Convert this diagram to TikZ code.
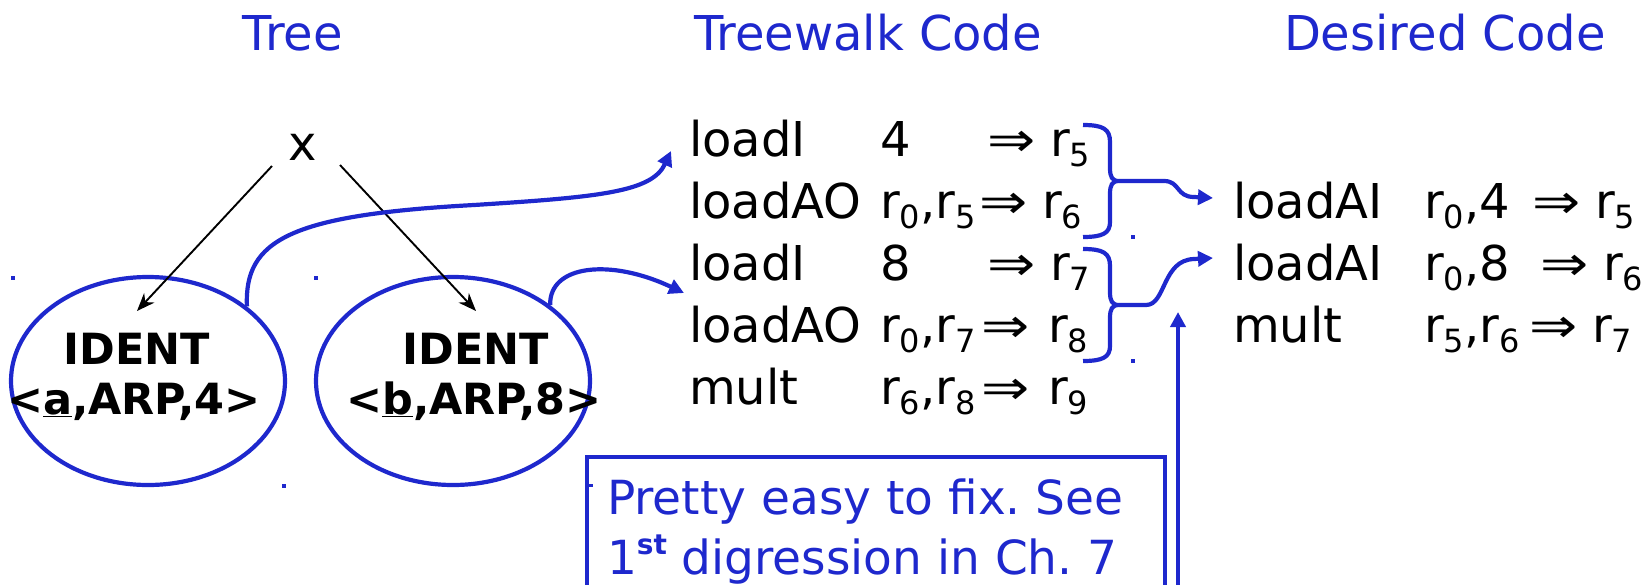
\documentclass[tikz,border=0pt]{standalone}
\usepackage{fontspec}
\setmainfont{DejaVu Sans}
\usetikzlibrary{arrows.meta,shapes.geometric}
\definecolor{blueC}{RGB}{30,40,205}
\frenchspacing
\newcommand\rs[1]{\raisebox{-0.22em}{\fontsize{32}{32}\selectfont #1}}
\newcommand\imp{\scalebox{1.2}[1.0]{⇒}}
\begin{document}
\begin{tikzpicture}[x=1pt,y=-1pt,
  txt/.style={inner sep=0pt,outer sep=0pt,anchor=base west,font=\fontsize{48}{48}\selectfont},
  title/.style={txt,text=blueC},
  note/.style={title,font=\fontsize{47}{47}\selectfont},
  bold/.style={inner sep=0pt,outer sep=0pt,anchor=base,font=\fontsize{43}{43}\selectfont\bfseries},
  ell/.style={draw=blueC,line width=4.2pt,ellipse,minimum width=274pt,minimum height=208pt,inner sep=0pt},
  tarrow/.style={draw=black,line width=1.9pt,-{Stealth[length=18pt,width=14pt]}},
  barrow/.style={draw=blueC,line width=4.2pt,-{Triangle[length=15pt,width=15pt]}},
  bline/.style={draw=blueC,line width=4.2pt},
  dot/.style={fill=blueC}]
\useasboundingbox (0,0) rectangle (1651,584);
% titles
\node[title,anchor=base] (tTree) at (293,50) {Tree};
\node[title] (tTW) at (694,50) {Treewalk Code};
\node[title] (tDC) at (1284,50) {Desired Code};
% tree
\node[inner sep=0pt,font=\fontsize{48}{48}\selectfont] (x) at (303,147) {x};
\node[ell] (e1) at (148,381) {};
\node[ell] (e2) at (453,381) {};
\node[bold] (i1a) at (137,364) {IDENT};
\node[bold] (i1b) at (134,414) {<\underline{a},ARP,4>};
\node[bold] (i2a) at (476,364) {IDENT};
\node[bold] (i2b) at (474,414) {<\underline{b},ARP,8>};
\draw[tarrow] ([shift={(-31,19)}]x.center) -- ([shift={(-11,-70)}]e1.center);
\draw[tarrow] ([shift={(37,18)}]x.center) -- ([shift={(23,-70)}]e2.center);
% treewalk code
\node[txt] (o1) at (689,156) {loadI};
\node[txt] (a1) at (880,156) {4};
\node[txt] (m1) at (987,156) {\imp};
\node[txt] (r1) at (1050,156) {r\rs{5}};
\node[txt] (o2) at (689,218) {loadAO};
\node[txt] (a2) at (880,218) {r\rs{0},r\rs{5}};
\node[txt] (m2) at (979,218) {\imp};
\node[txt] (r2) at (1042,218) {r\rs{6}};
\node[txt] (o3) at (689,280) {loadI};
\node[txt] (a3) at (880,280) {8};
\node[txt] (m3) at (987,280) {\imp};
\node[txt] (r3) at (1050,280) {r\rs{7}};
\node[txt] (o4) at (689,342) {loadAO};
\node[txt] (a4) at (880,342) {r\rs{0},r\rs{7}};
\node[txt] (m4) at (981,342) {\imp};
\node[txt] (r4) at (1048,342) {r\rs{8}};
\node[txt] (o5) at (689,404) {mult};
\node[txt] (a5) at (880,404) {r\rs{6},r\rs{8}};
\node[txt] (m5) at (981,404) {\imp};
\node[txt] (r5) at (1048,404) {r\rs{9}};
% desired code
\node[txt] (d1) at (1233,218) {loadAI};
\node[txt] (da1) at (1424,218) {r\rs{0},4};
\node[txt] (dm1) at (1532,218) {\imp};
\node[txt] (dr1) at (1595,218) {r\rs{5}};
\node[txt] (d2) at (1233,280) {loadAI};
\node[txt] (da2) at (1424,280) {r\rs{0},8};
\node[txt] (dm2) at (1540,280) {\imp};
\node[txt] (dr2) at (1603,280) {r\rs{6}};
\node[txt] (d3) at (1233,342) {mult};
\node[txt] (da3) at (1424,342) {r\rs{5},r\rs{6}};
\node[txt] (dm3) at (1529,342) {\imp};
\node[txt] (dr3) at (1592,342) {r\rs{7}};
% curved arrows from ellipses
\draw[barrow] (e1.37) .. controls (244,240) and (290,215) .. (474,205)
   .. controls (600,197) and (652,192) .. ([shift={(-18,-5)}]o1.base west);
\draw[barrow] (e2.38) .. controls (549,265) and (610,258) .. ([shift={(-5,13)}]o3.base west);
% braces
\draw[bline] (1083,125) .. controls (1103,125) and (1110,129) .. (1110,142) -- (1110,168)
  .. controls (1110,177) and (1112,181) .. (1119,181)
  .. controls (1112,181) and (1110,185) .. (1110,194) -- (1110,222)
  .. controls (1110,233) and (1103,237) .. (1083,237);
\begin{scope}[shift={(0,124)}]
\draw[bline] (1083,125) .. controls (1103,125) and (1110,129) .. (1110,142) -- (1110,168)
  .. controls (1110,177) and (1112,181) .. (1119,181)
  .. controls (1112,181) and (1110,185) .. (1110,194) -- (1110,222)
  .. controls (1110,233) and (1103,237) .. (1083,237);
\end{scope}
\coordinate (b1) at (1119,181);
\coordinate (b2) at (1119,305);
\draw[barrow] (b1) -- (1164,181) .. controls (1180,181) and (1176,197) .. (1194,197)
  -- ([shift={(-20,-20)}]d1.base west);
\draw[barrow] (b2) -- (1146,305) .. controls (1166,305) and (1162,260) .. (1194,259)
  -- ([shift={(-20,-22)}]d2.base west);
% vertical arrow
\coordinate (vb) at (1178,600);
\coordinate (vt) at (1178,312);
\draw[barrow] (vb) -- (vt);
% box
\node[draw=blueC,line width=4.2pt,anchor=north west,minimum width=578pt,minimum height=160pt,inner sep=0pt] (box) at (585,455) {};
\node[note] (bt1) at (607,514) {Pretty easy to fix. See};
\node[note] (bt2) at (607,574) {1\raisebox{0.42em}{\fontsize{28}{28}\selectfont\bfseries st} digression in Ch. 7};
% dots
\fill[dot] (11,276) rectangle (15,280);
\fill[dot] (314,276) rectangle (318,280);
\fill[dot] (282,484) rectangle (286,488);
\fill[dot] (1131,235) rectangle (1135,239);
\fill[dot] (1131,359) rectangle (1135,363);
\fill[dot] (587,484) rectangle (593,487);
\end{tikzpicture}
\end{document}
